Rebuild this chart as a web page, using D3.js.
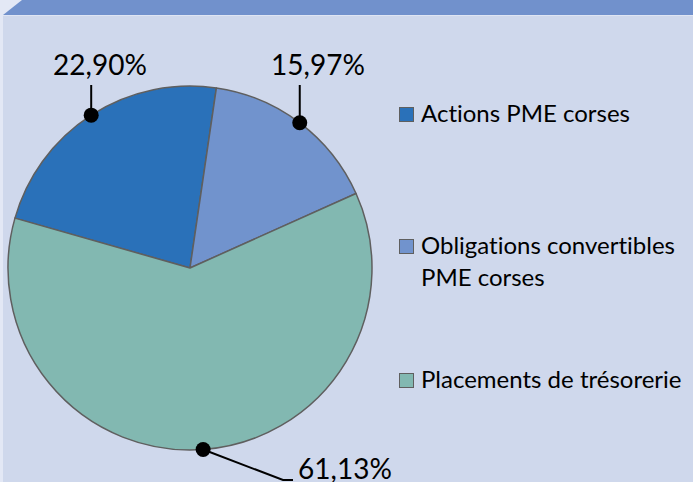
<!DOCTYPE html>
<html>
<head>
<meta charset="utf-8">
<script src="https://cdn.jsdelivr.net/npm/d3@7"></script>
<style>
  body { margin: 0; background: #fff; }
  svg { display: block; font-family: Lato, "Open Sans", sans-serif; font-variant-ligatures: none; }
</style>
</head>
<body>
<div id="chart"></div>
<script>
// chart data
const categories = ["Actions PME corses", "Obligations convertibles PME corses", "Placements de trésorerie"];
const values = [22.90, 15.97, 61.13];
const labels = ["22,90%", "15,97%", "61,13%"];
const legendLines = [["Actions PME corses"], ["Obligations convertibles", "PME corses"], ["Placements de trésorerie"]];
const colors = ["#2a71b9", "#7193cd", "#82b8b1"];

const width = 693;
const height = 482;

const svg = d3.select("#chart").append("svg")
  .attr("width", width)
  .attr("height", height);

// background panel + top bevel band
svg.append("rect")
  .attr("width", width).attr("height", height)
  .attr("fill", "#e3e8f5");
svg.append("rect")
  .attr("x", 3).attr("y", 15)
  .attr("width", width - 3).attr("height", height - 15)
  .attr("fill", "#cfd8ec");
svg.append("path")
  .attr("d", `M3,15 L22,0 L${width},0 L${width},15 Z`)
  .attr("fill", "#7191cc");
svg.append("line")
  .attr("x1", 3).attr("x2", width)
  .attr("y1", 15.5).attr("y2", 15.5)
  .attr("stroke", "#dfe5f3").attr("stroke-width", 1);

// pie
const cx = 190, cy = 268, r = 182;
const startDeg = -74.1;

const pie = d3.pie()
  .sort(null)
  .startAngle(startDeg * Math.PI / 180)
  .endAngle((startDeg + 360) * Math.PI / 180);

const arc = d3.arc().innerRadius(0).outerRadius(r);

const arcs = pie(values);

const g = svg.append("g")
  .attr("transform", `translate(${cx},${cy})`);

g.selectAll("path.slice")
  .data(arcs)
  .enter().append("path")
  .attr("class", "slice")
  .attr("d", arc)
  .attr("fill", (d, i) => colors[i])
  .attr("stroke", "#5f5f5f")
  .attr("stroke-width", 1.5)
  .attr("stroke-linejoin", "round");

// label leaders: point on rim, then line to label
function rimPoint(d) {
  const a = (d.startAngle + d.endAngle) / 2;
  return [r * Math.sin(a), -r * Math.cos(a)];
}

const labelPos = [
  { tx: 100, ty: 75, path: (p) => `M${p[0]},${p[1]} L${p[0]},85` },
  { tx: 318, ty: 75, path: (p) => `M${p[0]},${p[1]} L${p[0]},85` },
  { tx: 345, ty: 479, path: (p) => `M${p[0]},${p[1]} L283,480 L293,480` }
];

arcs.forEach((d, i) => {
  const p = rimPoint(d);
  const abs = [p[0] + cx, p[1] + cy];
  svg.append("path")
    .attr("d", labelPos[i].path(abs))
    .attr("fill", "none")
    .attr("stroke", "#000")
    .attr("stroke-width", 2);
  svg.append("circle")
    .attr("cx", abs[0]).attr("cy", abs[1])
    .attr("r", 7.5)
    .attr("fill", "#000");
  svg.append("text")
    .attr("x", labelPos[i].tx)
    .attr("y", labelPos[i].ty)
    .attr("text-anchor", "middle")
    .attr("font-size", 28)
    .attr("fill", "#000")
    .text(labels[i]);
});

// legend
const legendY = [122, 254, 388];
const legend = svg.append("g");
legendLines.forEach((lines, i) => {
  legend.append("rect")
    .attr("x", 399.5).attr("y", legendY[i] - 14.5)
    .attr("width", 14).attr("height", 14)
    .attr("fill", colors[i])
    .attr("stroke", "#5f5f5f")
    .attr("stroke-width", 1);
  const t = legend.append("text")
    .attr("x", 421)
    .attr("y", legendY[i])
    .attr("font-size", 24)
    .attr("fill", "#000");
  lines.forEach((ln, j) => {
    t.append("tspan")
      .attr("x", 421)
      .attr("dy", j === 0 ? 0 : 32)
      .text(ln);
  });
});
</script>
</body>
</html>
